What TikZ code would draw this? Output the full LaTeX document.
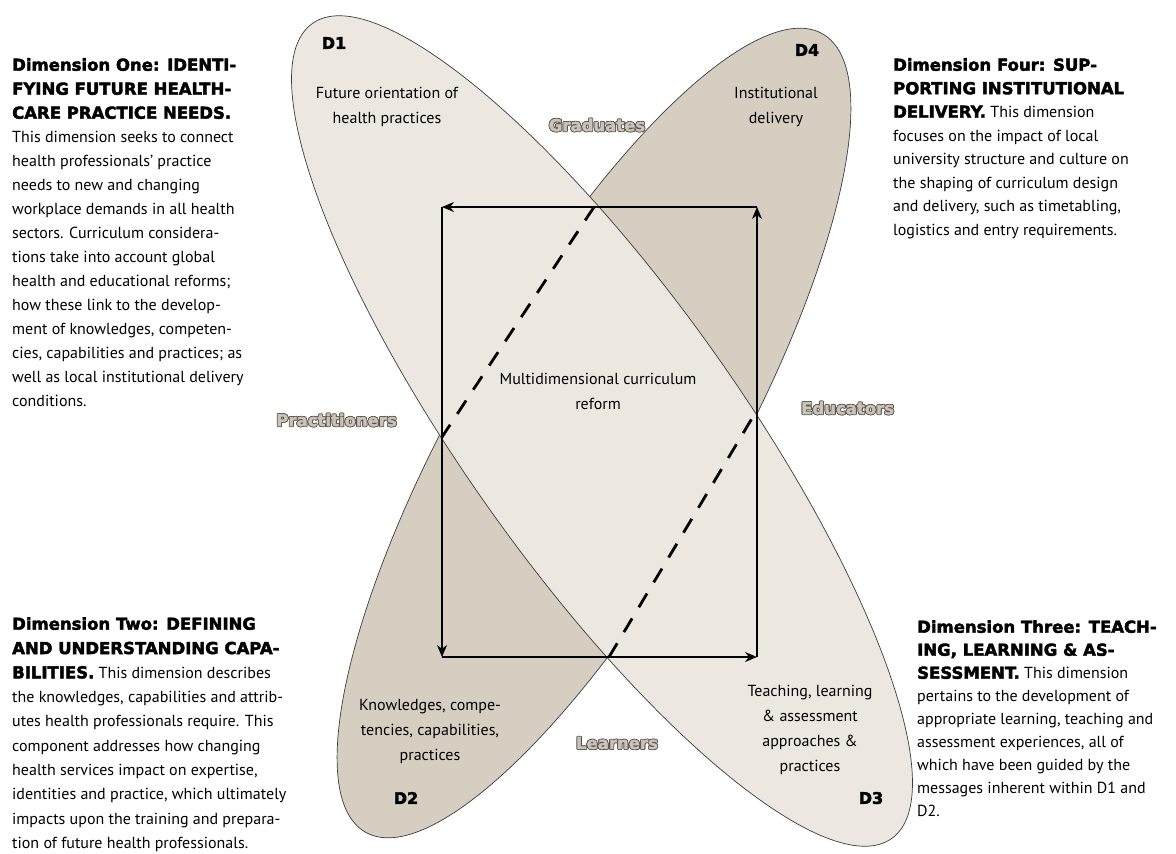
\documentclass[tikz,border=0pt]{standalone}
\usepackage{fontspec}
\setmainfont{PT Sans}
\newfontfamily\headfont{DejaVu Sans}[UprightFont={* Bold},UprightFeatures={FakeBold=2.5}]
\usetikzlibrary{arrows.meta}
\definecolor{paleleaf}{RGB}{236,232,225}
\definecolor{darkleaf}{RGB}{214,206,193}
\definecolor{leafline}{RGB}{60,60,60}
\definecolor{rolefill}{RGB}{202,195,184}
\definecolor{rolerim}{RGB}{85,80,75}
\newcommand\hd{\headfont\fontsize{16.5}{23.5}\selectfont}
\newcommand\rimtext[1]{\leavevmode\rlap{\color{rolerim}%
  \rlap{\kern-.8pt#1}\rlap{\kern.8pt#1}\rlap{\raisebox{.8pt}{#1}}\rlap{\raisebox{-.8pt}{#1}}%
  \rlap{\kern-.6pt\raisebox{.6pt}{#1}}\rlap{\kern.6pt\raisebox{.6pt}{#1}}%
  \rlap{\kern-.6pt\raisebox{-.6pt}{#1}}\rlap{\kern.6pt\raisebox{-.6pt}{#1}}}%
  \textcolor{rolefill}{#1}}

\begin{document}
\begin{tikzpicture}[x=1pt,y=-1pt,
  leaf/.style={draw=leafline,line width=.7pt},
  flow/.style={line width=1.1pt,-{Stealth[length=12pt,width=10pt]}},
  hiddenedge/.style={line width=2.8pt,dash pattern=on 16pt off 13pt},
  blurb/.style={align=left,inner sep=0pt,anchor=north west,font=\fontsize{16}{24}\selectfont},
  leaflabel/.style={align=center,inner sep=0pt,font=\fontsize{16}{25}\selectfont},
  dlabel/.style={inner sep=0pt,font=\headfont\fontsize{16}{18}\selectfont},
  role/.style={inner sep=0pt,font=\headfont\fontsize{16.5}{18}\selectfont}]
  \useasboundingbox (0,0) rectangle (1176,854);

  % the two leaves, the pale one on top
  \filldraw[leaf,fill=darkleaf,rotate around={60.2:(594,433)}] (594,433) ellipse [x radius=460, y radius=135];
  \filldraw[leaf,fill=paleleaf,rotate around={-54.6:(602,431)}] (602,431) ellipse [x radius=500, y radius=137];

  \coordinate (tl) at (442,207);
  \coordinate (tr) at (757,207);
  \coordinate (bl) at (442,657);
  \coordinate (br) at (757,657);
  \coordinate (gradpt) at (594,207);
  \coordinate (pracpt) at (442,437);
  \coordinate (learnpt) at (609,657);
  \coordinate (educpt) at (757,410);

  \draw[flow] (tr) -- (tl);
  \draw[flow] (tl) -- (bl);
  \draw[flow] (bl) -- (br);
  \draw[flow] (br) -- (tr);
  \draw[hiddenedge] (gradpt) -- (pracpt);
  \draw[hiddenedge] (learnpt) -- (educpt);

  \node[dlabel] (d1) at (334,43) {D1};
  \node[leaflabel] (future) at (387,107) {Future orientation of\\health practices};
  \node[dlabel] (d4) at (807,50) {D4};
  \node[leaflabel] (inst) at (776,107) {Institutional\\delivery};
  \node[role] (grad) at (597,125) {\rimtext{Graduates}};
  \node[leaflabel] (reform) at (598,391) {Multidimensional curriculum\\reform};
  \node[role,anchor=east] (prac) at (397,420) {\rimtext{Practitioners}};
  \node[role,anchor=west] (educ) at (801,408) {\rimtext{Educators}};
  \node[leaflabel] (know) at (430,731) {Knowledges, compe-\\tencies, capabilities,\\practices};
  \node[dlabel] (d2) at (406,798) {D2};
  \node[role] (learn) at (617,743) {\rimtext{Learners}};
  \node[leaflabel] (teach) at (810,730) {Teaching, learning\\\& assessment\\approaches \&\\practices};
  \node[dlabel] (d3) at (871,798) {D3};

  \node[blurb] (dimone) at (12,58) {{\hd Dimension One: IDENTI-}\\{\hd FYING FUTURE HEALTH-}\\{\hd CARE PRACTICE NEEDS.}\\
    This dimension seeks to connect\\health professionals' practice\\needs to new and changing\\
    workplace demands in all health\\sectors. Curriculum considera-\\tions take into account global\\
    health and educational reforms;\\how these link to the develop-\\ment of knowledges, competen-\\
    cies, capabilities and practices; as\\well as local institutional delivery\\conditions.};
  \node[blurb,font=\fontsize{16}{23.5}\selectfont] (dimfour) at (893,58) {{\hd Dimension Four: SUP-}\\{\hd PORTING INSTITUTIONAL}\\
    {\hd DELIVERY.} This dimension\\focuses on the impact of local\\university structure and culture on\\
    the shaping of curriculum design\\and delivery, such as timetabling,\\logistics and entry requirements.};
  \node[blurb,font=\fontsize{16}{24.3}\selectfont] (dimtwo) at (12,617) {{\hd Dimension Two: DEFINING}\\{\hd AND UNDERSTANDING CAPA-}\\
    {\hd BILITIES.} This dimension describes\\the knowledges, capabilities and attrib-\\
    utes health professionals require. This\\component addresses how changing\\
    health services impact on expertise,\\identities and practice, which ultimately\\
    impacts upon the training and prepara-\\tion of future health professionals.};
  \node[blurb,font=\fontsize{16}{23}\selectfont] (dimthree) at (917,620) {{\hd Dimension Three: TEACH-}\\{\hd ING, LEARNING \& AS-}\\
    {\hd SESSMENT.} This dimension\\pertains to the development of\\appropriate learning, teaching and\\
    assessment experiences, all of\\which have been guided by the\\messages inherent within D1 and\\D2.};
\end{tikzpicture}
\end{document}
